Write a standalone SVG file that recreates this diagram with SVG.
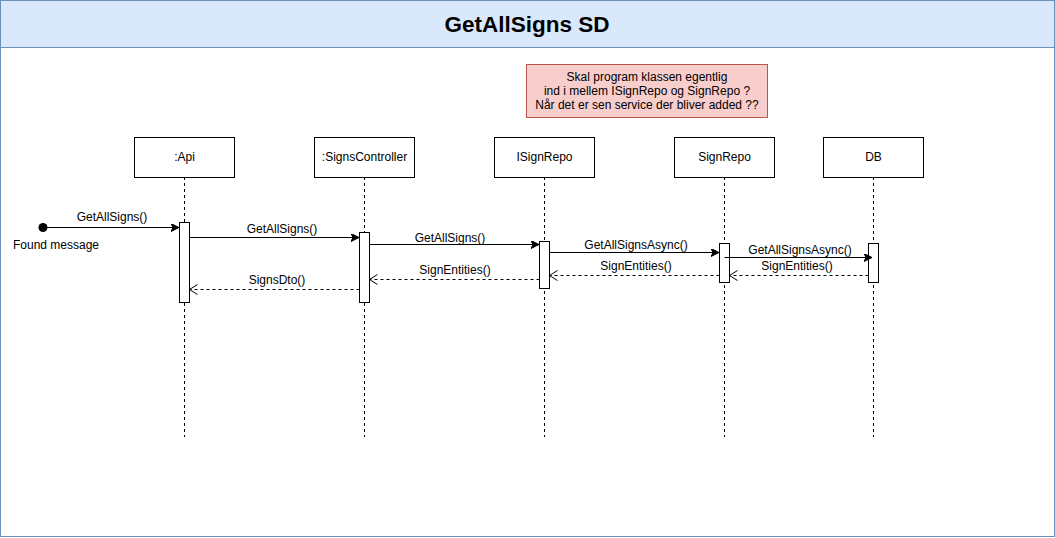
<svg xmlns="http://www.w3.org/2000/svg" width="1055" height="538" viewBox="0 0 1055 538">
<style>
text{font-family:"Liberation Sans",Arial,sans-serif;font-size:12px;fill:#000;text-anchor:middle}
.title{font-size:22.5px;font-weight:bold}
.box{fill:#fff;stroke:#000;stroke-width:1}
.life{stroke:#000;stroke-width:1;stroke-dasharray:3 3;fill:none}
.act{fill:#fff;stroke:#000;stroke-width:1}
.call{stroke:#000;stroke-width:1;fill:none;marker-end:url(#block)}
.ret{stroke:#000;stroke-width:1;fill:none;stroke-dasharray:3 3;marker-end:url(#open)}
</style>
<defs>
<marker id="block" markerWidth="10" markerHeight="10" refX="8" refY="4" orient="auto" markerUnits="userSpaceOnUse">
<path d="M0,0 L8,4 L0,8 L2,4 Z" fill="#000" stroke="#000" stroke-width="1"/>
</marker>
<marker id="open" markerWidth="10" markerHeight="12" refX="8" refY="5" orient="auto" markerUnits="userSpaceOnUse">
<path d="M0,0 L8,5 L0,10" fill="none" stroke="#000" stroke-width="1"/>
</marker>
</defs>
<g id="frame">
<rect x="0.5" y="0.5" width="1054" height="536" fill="#fff" stroke="#6c8ebf"/>
<rect x="0.5" y="0.5" width="1054" height="47" fill="#dae8fc" stroke="#6c8ebf"/>
<text class="title" x="527" y="32">GetAllSigns SD</text>
</g>
<g id="note">
<rect x="526.5" y="64.5" width="241" height="53" fill="#f8cecc" stroke="#b85450"/>
<text x="647" y="81">Skal program klassen egentlig</text>
<text x="647" y="95">ind i mellem ISignRepo og SignRepo ?</text>
<text x="647" y="109">Når det er sen service der bliver added ??</text>
</g>
<g id="api">
<line class="life" x1="184.5" y1="177" x2="184.5" y2="437"/>
<rect class="box" x="134.5" y="137.5" width="100" height="40"/>
<text x="184.5" y="161">:Api</text>
<rect class="act" x="179.5" y="222.5" width="10" height="80"/>
</g>
<g id="signscontroller">
<line class="life" x1="364.5" y1="177" x2="364.5" y2="437"/>
<rect class="box" x="314.5" y="137.5" width="100" height="40"/>
<text x="364.5" y="161">:SignsController</text>
<rect class="act" x="359.5" y="232.5" width="10" height="70"/>
</g>
<g id="isignrepo">
<line class="life" x1="544.5" y1="177" x2="544.5" y2="437"/>
<rect class="box" x="494.5" y="137.5" width="100" height="40"/>
<text x="544.5" y="161">ISignRepo</text>
<rect class="act" x="539.5" y="241.5" width="10" height="47"/>
</g>
<g id="signrepo">
<line class="life" x1="724.5" y1="177" x2="724.5" y2="437"/>
<rect class="box" x="674.5" y="137.5" width="100" height="40"/>
<text x="724.5" y="161">SignRepo</text>
<rect class="act" x="719.5" y="243.5" width="10" height="39"/>
</g>
<g id="db">
<line class="life" x1="873.5" y1="177" x2="873.5" y2="437"/>
<rect class="box" x="823.5" y="137.5" width="100" height="40"/>
<text x="873.5" y="161">DB</text>
<rect class="act" x="868.5" y="243.5" width="10" height="39"/>
</g>
<g id="connectors">
<circle cx="43" cy="227.5" r="4.5" fill="#000"/>
<line class="call" x1="43" y1="227.5" x2="179" y2="227.5"/>
<text x="112" y="221">GetAllSigns()</text>
<text x="56" y="249">Found message</text>
<line class="call" x1="189.5" y1="237.5" x2="359" y2="237.5"/>
<text x="282" y="233">GetAllSigns()</text>
<line class="call" x1="369.5" y1="244.5" x2="539" y2="244.5"/>
<text x="450" y="242">GetAllSigns()</text>
<line class="call" x1="549.5" y1="252.5" x2="719" y2="252.5"/>
<text x="636" y="249">GetAllSignsAsync()</text>
<line class="call" x1="724.5" y1="257.5" x2="872" y2="257.5"/>
<text x="800" y="254">GetAllSignsAsync()</text>
<line class="ret" x1="868.5" y1="275.5" x2="729.5" y2="275.5"/>
<text x="797" y="270">SignEntities()</text>
<line class="ret" x1="719.5" y1="275.5" x2="549.5" y2="275.5"/>
<text x="636" y="270">SignEntities()</text>
<line class="ret" x1="539.5" y1="279.5" x2="369.5" y2="279.5"/>
<text x="455" y="274">SignEntities()</text>
<line class="ret" x1="359.5" y1="289.5" x2="189.5" y2="289.5"/>
<text x="277" y="284">SignsDto()</text>
</g>
</svg>
